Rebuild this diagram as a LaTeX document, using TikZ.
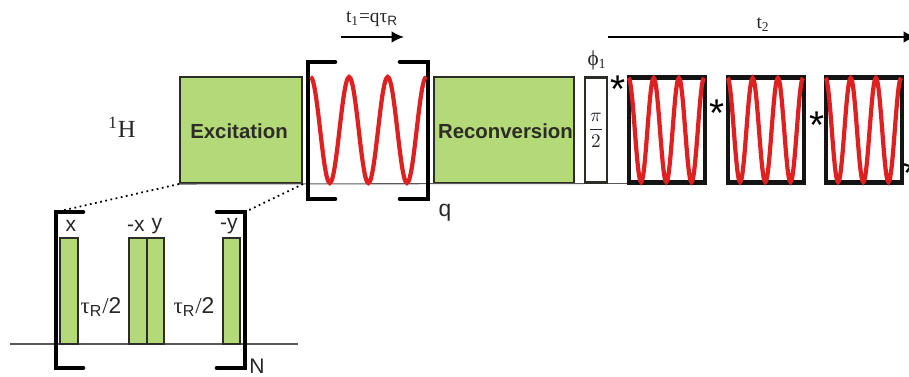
\documentclass[tikz,border=0pt]{standalone}
\usepackage{fontspec}
\usetikzlibrary{arrows.meta}
\setmainfont{Liberation Serif}
\setsansfont{Liberation Sans}
\definecolor{pulsegreen}{RGB}{179,217,120}
\definecolor{wavered}{RGB}{222,32,32}
\definecolor{edgegray}{RGB}{45,45,40}
\newcommand{\tauR}{τ\textsubscript{\sffamily R}/\textsf{2}}
\tikzset{
  pulse/.style={draw=edgegray,fill=pulsegreen,line width=1.2pt,inner sep=0pt},
  bigtext/.style={inner sep=0pt,font=\sffamily\bfseries\fontsize{11.6}{14}\selectfont,text=edgegray},
  seqtext/.style={inner sep=0pt,text=black!85,font=\fontsize{11}{13}\selectfont},
  sanstext/.style={seqtext,font=\sffamily\fontsize{12}{14}\selectfont},
  startext/.style={inner sep=0pt,font=\sffamily\fontsize{22}{22}\selectfont},
  bracket/.style={line width=2.6pt,line cap=round},
  wave/.style={color=wavered,line width=2.4pt},
  baseline/.style={color=black!65,line width=0.6pt},
  timearrow/.style={-{Latex[length=7pt,width=6.5pt]},line width=1pt},
  framebox/.style={draw=black!92,line width=2.6pt,minimum width=1.52cm,minimum height=2.1cm,inner sep=0pt},
}

\begin{document}
\begin{tikzpicture}[x=0.02cm,y=-0.02cm]
\useasboundingbox (0,0) rectangle (909,377);

% base lines
\coordinate (upperstart) at (178,184);
\coordinate (lowerstart) at (10,344);
\coordinate (lowerend) at (298,344);
\draw[baseline] (lowerstart) to (lowerend);

\node[pulse,minimum width=2.44cm,minimum height=2.12cm] (excitation) at (241,130) {};
\node[pulse,minimum width=2.8cm,minimum height=2.12cm] (reconversion) at (504,130) {};
\node[pulse,fill=white,minimum width=0.44cm,minimum height=2.1cm] (pihalf) at (596,130) {};
\draw[baseline] (upperstart) to (pihalf.south west);
\draw[baseline] (pihalf.south east) to ++(20,0);
\node[bigtext] at (239,131) {Excitation};
\node[bigtext] at (505.5,131) {Reconversion};
\node[seqtext] (pilabel) at (pihalf) {$\displaystyle\frac{\pi}{2}$};

% mixing period
\draw[bracket] (335,62) -- (308,62) -- (308,199) -- (335,199);
\draw[bracket] (400,62) -- (428,62) -- (428,199) -- (400,199);
\draw[wave] plot[domain=0:3,samples=91,smooth] ({310.5+38.6*\x},{130-53*cos(360*\x)});
\node[seqtext] (tone) at (372,19) {t\textsubscript{1}=qτ\textsubscript{\sffamily R}};
\coordinate (toneleft) at (341,37);
\coordinate (toneright) at (404,37);
\draw[timearrow] (toneleft) to (toneright);
\node[sanstext,font=\sffamily\fontsize{13}{15}\selectfont] (qlabel) at (445,213) {q};

\node[seqtext,font=\fontsize{14}{16}\selectfont] (proton) at (122,127) {\textsuperscript{1}H};
\node[seqtext,font=\fontsize{12}{14}\selectfont] (phione) at (597,60) {ϕ\textsubscript{1}};

% detection
\node[seqtext] (ttwo) at (763,25) {t\textsubscript{2}};
\coordinate (ttwoleft) at (608,37);
\coordinate (ttworight) at (916,37);
\draw[timearrow] (ttwoleft) to (ttworight);
\foreach \name/\xpos/\xstar/\ystar in {one/627/618/89,two/726/717/113,three/824/817/125} {
  \node[framebox] (frame\name) at ({\xpos+40},130) {};
  \draw[wave] plot[domain=0:3,samples=91,smooth] ({\xpos+1.5+25.2*\x},{130-52*cos(360*\x)});
  \node[startext] (star\name) at (\xstar,\ystar) {*};
}
\node[startext] (starfour) at (911,173) {*};

% windowed sequence
\draw[bracket] (83,212) -- (56,212) -- (56,368) -- (83,368);
\draw[bracket] (217,212) -- (245,212) -- (245,368) -- (217,368);
\coordinate (bracketleft) at (56,212);
\coordinate (bracketright) at (245,212);
\draw[dotted,line width=1pt] (excitation.south west) to (bracketleft);
\draw[dotted,line width=1pt] (excitation.south east) to (bracketright);

\node[pulse,minimum width=0.36cm,minimum height=2.12cm] (px) at (69,291) {};
\node[pulse,minimum width=0.35cm,minimum height=2.12cm] (pmx) at (138,291) {};
\node[pulse,minimum width=0.35cm,minimum height=2.12cm] (py) at (155.5,291) {};
\node[pulse,minimum width=0.34cm,minimum height=2.12cm] (pmy) at (231.5,291) {};

\node[sanstext] (lx) at (71,226) {x};
\node[sanstext] (lmx) at (136,226) {-x};
\node[sanstext] (ly) at (157,226) {y};
\node[sanstext] (lmy) at (229,226) {-y};
\node[seqtext,font=\fontsize{13}{15}\selectfont] (tauone) at (101,307) {\tauR};
\node[seqtext,font=\fontsize{13}{15}\selectfont] (tautwo) at (194,307) {\tauR};
\node[sanstext] (nlabel) at (257,366) {N};

\end{tikzpicture}
\end{document}
